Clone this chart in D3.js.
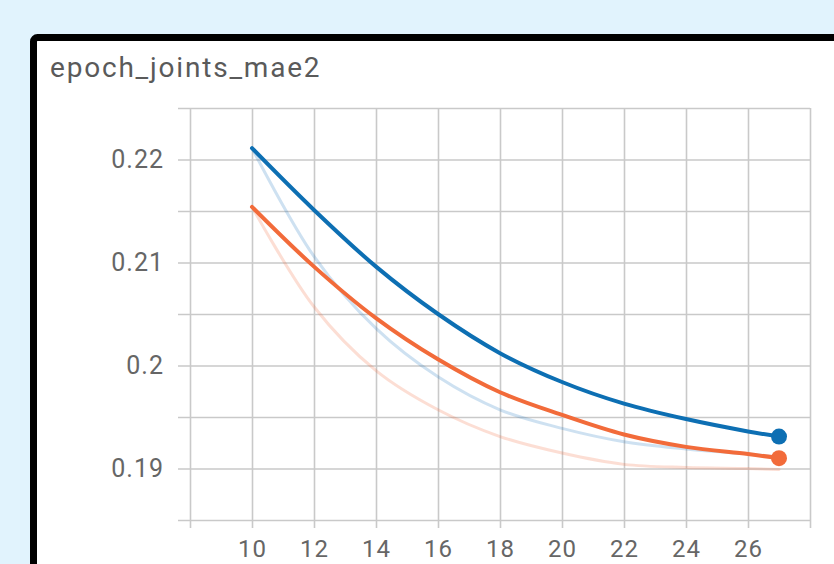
<!DOCTYPE html>
<html>
<head>
<meta charset="utf-8">
<script src="https://cdn.jsdelivr.net/npm/d3@7"></script>
<style>
  body { margin: 0; background: #e1f3fd; }
  svg { display: block; }
  .grid line { stroke: #c9c9c9; stroke-width: 1.6; }
  .grid path { display: none; }
  .axis text { font-family: Roboto, sans-serif; font-size: 25px; letter-spacing: 1px; fill: #666; }
  .axis.x text { font-size: 24px; }
  .axis path, .axis line { display: none; }
</style>
</head>
<body>
<div id="chart"></div>
<script>
var title = "epoch_joints_mae2";

// epochs
var epochs = [10, 12, 14, 16, 18, 20, 22, 24, 26, 27];

// run 1 (blue) and run 2 (orange), raw + smoothed as drawn by the board
var blueRaw      = [0.2211, 0.2106, 0.2036, 0.1989, 0.1957, 0.1939, 0.1926, 0.1919, 0.1914, 0.1911];
var blueSmooth   = [0.2211, 0.2151, 0.2096, 0.2050, 0.2012, 0.1984, 0.1963, 0.1948, 0.1936, 0.1931];
var orangeRaw    = [0.2154, 0.2057, 0.1995, 0.1957, 0.1931, 0.1915, 0.1904, 0.1901, 0.1900, 0.1899];
var orangeSmooth = [0.2154, 0.2096, 0.2046, 0.2006, 0.1974, 0.1952, 0.1933, 0.1921, 0.1914, 0.1910];

var xTicks = [8, 10, 12, 14, 16, 18, 20, 22, 24, 26, 28];
var yTicks = [0.185, 0.19, 0.195, 0.2, 0.205, 0.21, 0.215, 0.22, 0.225];
var yLabels = [0.19, 0.2, 0.21, 0.22];

var w = 834, h = 564;

var svg = d3.select("#chart").append("svg")
    .attr("width", w)
    .attr("height", h);

// card
svg.append("rect")
    .attr("x", 33.5).attr("y", 37.5)
    .attr("width", 900).attr("height", 700)
    .attr("rx", 4)
    .attr("fill", "#fff")
    .attr("stroke", "#000")
    .attr("stroke-width", 7);

svg.append("text")
    .attr("x", 50).attr("y", 77)
    .style("font-family", "Roboto, sans-serif")
    .style("font-size", "28px")
    .style("letter-spacing", "1.8px")
    .style("fill", "#5a5a5a")
    .text(title);

var x = d3.scaleLinear().domain([8, 28]).range([190, 810]);
var y = d3.scaleLinear().domain([0.185, 0.225]).range([520, 108]);

// vertical grid, extends a bit under the plot as tick marks
svg.append("g")
    .attr("class", "grid")
    .attr("transform", "translate(0,528)")
    .call(d3.axisBottom(x).tickValues(xTicks).tickSize(-(528 - 108)).tickFormat(""));

// horizontal grid, extends a bit left of the plot
svg.append("g")
    .attr("class", "grid")
    .attr("transform", "translate(178,0)")
    .call(d3.axisLeft(y).tickValues(yTicks).tickSize(-(810 - 178)).tickFormat(""));

svg.append("g")
    .attr("class", "axis x")
    .attr("transform", "translate(0,528)")
    .call(d3.axisBottom(x).tickValues(xTicks.slice(1, -1)).tickSize(0).tickPadding(12));

svg.append("g")
    .attr("class", "axis")
    .attr("transform", "translate(178,0)")
    .call(d3.axisLeft(y).tickValues(yLabels).tickSize(0).tickPadding(14).tickFormat(d3.format("~g")));

var line = d3.line()
    .x(function(d) { return x(d[0]); })
    .y(function(d) { return y(d[1]); })
    .curve(d3.curveCatmullRom.alpha(0.5));

function pairs(vals) {
  return epochs.map(function(e, i) { return [e, vals[i]]; });
}

var series = [
  {vals: orangeRaw, color: "#f26b3a", width: 3, op: 0.22},
  {vals: blueRaw, color: "#1f78c0", width: 3, op: 0.22},
  {vals: orangeSmooth, color: "#f26b3a", width: 4, op: 1},
  {vals: blueSmooth, color: "#0d6fb3", width: 4, op: 1}
];

series.forEach(function(s) {
  svg.append("path")
    .datum(pairs(s.vals))
    .attr("d", line)
    .attr("fill", "none")
    .attr("stroke", s.color)
    .attr("stroke-width", s.width)
    .attr("stroke-opacity", s.op)
    .attr("stroke-linecap", "round");
});

// end markers on smoothed lines
var last = epochs.length - 1;
svg.selectAll("circle.end")
    .data([{v: orangeSmooth[last], c: "#f26b3a"}, {v: blueSmooth[last], c: "#0d6fb3"}])
    .enter()
    .append("circle")
    .attr("class", "end")
    .attr("cx", x(epochs[last]))
    .attr("cy", function(d) { return y(d.v); })
    .attr("r", 8)
    .attr("fill", function(d) { return d.c; });
</script>
</body>
</html>
